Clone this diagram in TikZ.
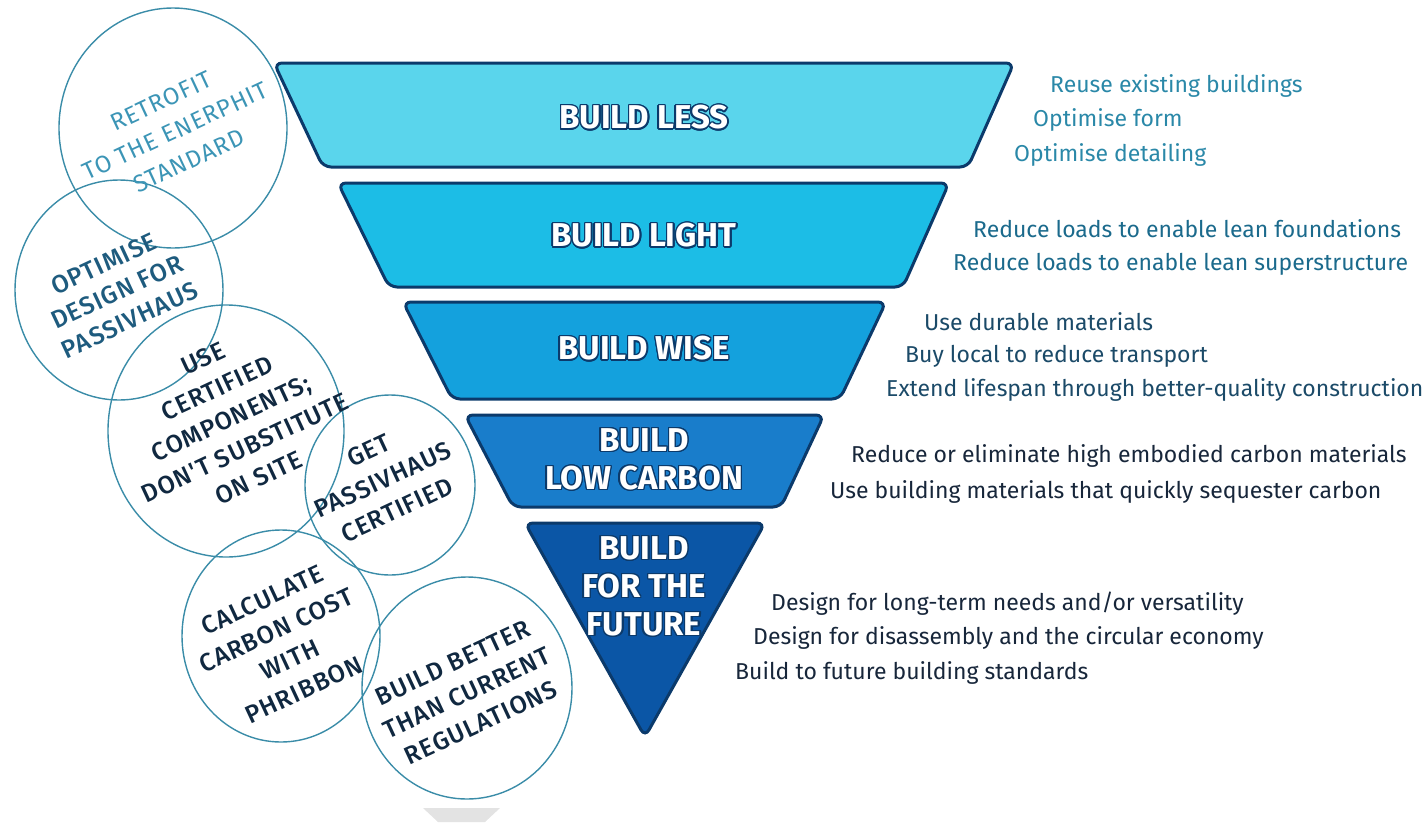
\documentclass[tikz,border=0pt]{standalone}
\usepackage{fontspec}
\setmainfont{Fira Sans}
\newfontfamily\ideafont{Fira Sans Medium}[LetterSpace=4]
\newfontfamily\idealight{Fira Sans}[LetterSpace=4]
\usepackage{contour}
\contourlength{1.4pt}

\definecolor{tierA}{HTML}{5AD5EC}
\definecolor{tierB}{HTML}{1CBDE6}
\definecolor{tierC}{HTML}{14A1DD}
\definecolor{tierD}{HTML}{197DCB}
\definecolor{tierE}{HTML}{0B56A6}
\definecolor{tieredge}{HTML}{0B3A6B}
\definecolor{ringline}{HTML}{3A8CA8}
\definecolor{ideaA}{HTML}{3C95B6}
\definecolor{ideaB}{HTML}{1E5B7E}
\definecolor{ideaC}{HTML}{102840}
\definecolor{hintA}{HTML}{2A88A8}
\definecolor{hintB}{HTML}{1B6A8C}
\definecolor{hintC}{HTML}{1B4A68}
\definecolor{hintD}{HTML}{17263A}
\definecolor{ghost}{HTML}{E3E3E3}

\newcommand{\glow}[1]{\contour{tieredge}{#1}}

\begin{document}
\begin{tikzpicture}[x=1pt,y=-1pt]
	\tikzstyle{every node}=[inner sep=0pt, align=center]
	\tikzstyle{tier}=[draw=tieredge, line width=3pt, rounded corners=8pt]
	\tikzstyle{tiertext}=[font=\fontsize{33}{38}\selectfont\bfseries, text=white]
	\tikzstyle{ring}=[draw=ringline, line width=1.4pt]
	\tikzstyle{idea}=[rotate=25, font=\ideafont\fontsize{25}{33}\selectfont, text=ideaC]
	\tikzstyle{hint}=[anchor=west, font=\fontsize{23}{27}\selectfont]
	\useasboundingbox (0,0) rectangle (1426,822);

	% rings on the left
	\draw[ring] (173,128) ellipse [x radius=114, y radius=120];
	\draw[ring] (119,290) ellipse [x radius=104, y radius=110];
	\draw[ring] (226,431) ellipse [x radius=118, y radius=126];
	\draw[ring] (390,485) ellipse [x radius=85, y radius=90];
	\draw[ring] (281,636) ellipse [x radius=99, y radius=106];
	\draw[ring] (467,688) ellipse [x radius=105, y radius=111];
	\fill[ghost] (423,808) -- (500,808) -- (485,822) -- (438,822) -- cycle;

	\node (retrofit) [idea, text=ideaA, font=\idealight\fontsize{24}{33}\selectfont] at (175,131) {RETROFIT\\TO THE ENERPHIT\\STANDARD};
	\node (optimise) [idea, text=ideaB, font=\ideafont\fontsize{25}{31}\selectfont] at (117,292) {OPTIMISE\\DESIGN FOR\\PASSIVHAUS};
	\node (certified) [idea] at (231,418) {USE\\CERTIFIED\\COMPONENTS;\\DON'T SUBSTITUTE\\ON SITE};
	\node (getph) [idea] at (383,480) {GET\\PASSIVHAUS\\CERTIFIED};
	\node (phribbon) [idea] at (283,645) {CALCULATE\\CARBON COST\\WITH\\PHRIBBON};
	\node (better) [idea] at (467,693) {BUILD BETTER\\THAN CURRENT\\REGULATIONS};

	% the funnel
	\draw[tier, fill=tierA] (274,63) -- (1014,63) -- (968,167) -- (323,167) -- cycle;
	\draw[tier, fill=tierB] (338,183) -- (949,183) -- (903,287) -- (389,287) -- cycle;
	\draw[tier, fill=tierC] (403,302) -- (886,302) -- (840,399) -- (452,399) -- cycle;
	\draw[tier, fill=tierD] (465,415) -- (824,415) -- (781,507) -- (513,507) -- cycle;
	\draw[tier, fill=tierE] (525,523) -- (765,523) -- (645,737) -- cycle;

	\node (less) [tiertext] at (644,118) {\glow{BUILD LESS}};
	\node (light) [tiertext] at (644,236) {\glow{BUILD LIGHT}};
	\node (wise) [tiertext] at (644,349) {\glow{BUILD WISE}};
	\node (lowcarbon) [tiertext] at (644,460) {\glow{BUILD}\\\glow{LOW CARBON}};
	\node (future) [tiertext] at (644,587) {\glow{BUILD}\\\glow{FOR THE}\\\glow{FUTURE}};

	% notes on the right
	\node (less1) [hint, text=hintA] at (1050,86) {Reuse existing buildings};
	\node (less2) [hint, text=hintA] at (1033,120) {Optimise form};
	\node (less3) [hint, text=hintA] at (1014,155) {Optimise detailing};
	\node (light1) [hint, text=hintB] at (973,229) {Reduce loads to enable lean foundations};
	\node (light2) [hint, text=hintB] at (953,264) {Reduce loads to enable lean superstructure};
	\node (wise1) [hint, text=hintC] at (924,322) {Use durable materials};
	\node (wise2) [hint, text=hintC] at (905,356) {Buy local to reduce transport};
	\node (wise3) [hint, text=hintC] at (886,390) {Extend lifespan through better-quality construction};
	\node (carbon1) [hint, text=hintD] at (851,456) {Reduce or eliminate high embodied carbon materials};
	\node (carbon2) [hint, text=hintD] at (830,492) {Use building materials that quickly sequester carbon};
	\node (future1) [hint, text=hintD] at (771,604) {Design for long-term needs and/or versatility};
	\node (future2) [hint, text=hintD] at (753,638) {Design for disassembly and the circular economy};
	\node (future3) [hint, text=hintD] at (735,673) {Build to future building standards};
\end{tikzpicture}
\end{document}
